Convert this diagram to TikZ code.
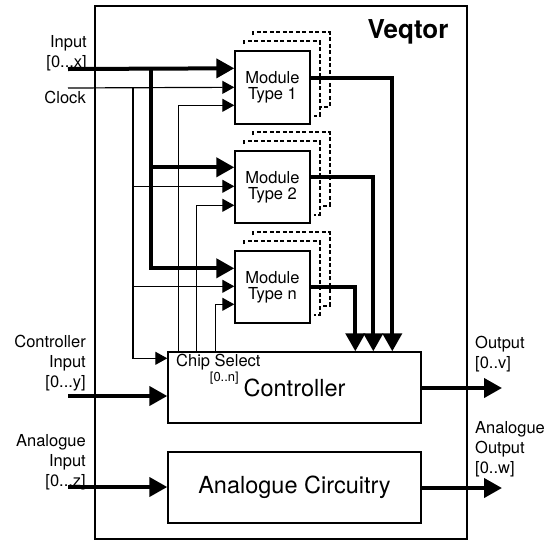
\documentclass[tikz,border=0pt]{standalone}
\usepackage{fontspec}
\setmainfont{TeX Gyre Heros}
\usetikzlibrary{arrows.meta}

\begin{document}
\begin{tikzpicture}[x=1pt,y=-1pt,
  blk/.style={draw,line width=1.4pt,inner sep=0pt},
  modbox/.style={blk,minimum width=75pt,minimum height=72pt,align=center,font=\fontsize{16.5}{16}\selectfont},
  bigbox/.style={blk,minimum width=253pt,minimum height=71pt,font=\fontsize{23.5}{28}\selectfont},
  bus/.style={line width=4pt,-{Triangle[length=18pt,width=19pt]}},
  wire/.style={line width=1.2pt,-{Triangle[length=12pt,width=13pt]}},
  ghost/.style={line width=1.7pt,dash pattern=on 4pt off 2.5pt},
  lbl/.style={font=\fontsize{16.5}{20}\selectfont,inner sep=0pt}]
  \useasboundingbox (0,0) rectangle (551,542);
  \node[blk,minimum width=372pt,minimum height=533pt] (veq) at (281,272.5) {};
  \node[anchor=base,inner sep=0pt,font=\bfseries\fontsize{26}{30}\selectfont] (title) at (408,38) {Veqtor};
  \node[modbox,minimum height=73pt] (mod1) at (272.5,87.5) {Module\\Type 1};
  \node[modbox] (mod2) at (272.5,187) {Module\\Type 2};
  \node[modbox] (modn) at (272.5,287) {Module\\Type n};
  \node[bigbox] (ctrl) at (294.5,387.5) {Controller};
  \node[bigbox] (ana) at (294.5,487.5) {Analogue Circuitry};
  \node[lbl,anchor=base west] (chipsel) at (176,366) {Chip Select};
  \node[anchor=base east,inner sep=0pt,font=\fontsize{13}{14}\selectfont] (chipnum) at (239,381) {[0..n]};
  \draw[ghost] (mod1.north west) ++(10,-6) -- ++(0,-3) -| ([xshift=9pt,yshift=9pt]mod1.south east) -- ++(-6,0);
  \draw[ghost] (mod1.north west) ++(19,-15) -- ++(0,-3) -| ([xshift=19pt,yshift=18pt]mod1.south east) -- ++(-9,0);
  \draw[ghost] (mod2.north west) ++(10,-6) -- ++(0,-3) -| ([xshift=9pt,yshift=9pt]mod2.south east) -- ++(-6,0);
  \draw[ghost] (mod2.north west) ++(19,-15) -- ++(0,-3) -| ([xshift=19pt,yshift=18pt]mod2.south east) -- ++(-9,0);
  \draw[ghost] (modn.north west) ++(10,-6) -- ++(0,-3) -| ([xshift=9pt,yshift=9pt]modn.south east) -- ++(-6,0);
  \draw[ghost] (modn.north west) ++(19,-15) -- ++(0,-3) -| ([xshift=19pt,yshift=18pt]modn.south east) -- ++(-9,0);
  \node[lbl,align=right,anchor=base east] (inlbl) at (87,67) {Input\\{}[0...x]};
  \node[lbl,anchor=base east] (clklbl) at (86,103) {Clock};
  \node[lbl,align=right,anchor=base east] (cinlbl) at (86,387) {Controller\\Input\\{}[0...y]};
  \node[lbl,align=right,anchor=base east] (ainlbl) at (86,486) {Analogue\\Input\\{}[0...z]};
  \node[lbl,align=left,anchor=base west] (coutlbl) at (475,368) {Output\\{}[0..v]};
  \node[lbl,align=left,anchor=base west] (aoutlbl) at (475,473) {Analogue\\Output\\{}[0..w]};
  \coordinate (inx) at (68,69);
  \coordinate (clk) at (68,88);
  \coordinate (cin) at (68,396);
  \coordinate (ain) at (68,487);
  \coordinate (cout) at (502,388);
  \coordinate (aout) at (502,488);
  \coordinate (inbus) at (151,69);
  \coordinate (clkbus) at (133,88);
  \draw[bus] (inx) -- ([yshift=-18pt]mod1.north west);
  \draw[bus] (inbus) |- ([yshift=-17pt]mod2.north west);
  \draw[bus] (inbus) |- ([yshift=-18pt]modn.north west);
  \draw[wire] (clk) -- ([yshift=-37pt]mod1.north west);
  \draw[wire] (clkbus) |- ([yshift=-36pt]mod2.north west);
  \draw[wire] (clkbus) |- ([yshift=-36pt]modn.north west);
  \draw[wire] (clkbus) |- ([yshift=-7pt]ctrl.north west);
  \draw[wire] ([xshift=11pt]ctrl.north west) |- ([yshift=-55pt]mod1.north west);
  \draw[wire] ([xshift=29pt]ctrl.north west) |- ([yshift=-55pt]mod2.north west);
  \draw[wire] ([xshift=48pt]ctrl.north west) |- ([yshift=-54pt]modn.north west);
  \draw[bus] ([yshift=-28pt]mod1.north east) -| ([xshift=225pt]ctrl.north west);
  \draw[bus] ([yshift=-27pt]mod2.north east) -| ([xshift=206pt]ctrl.north west);
  \draw[bus] (modn.east) -| ([xshift=188pt]ctrl.north west);
  \draw[bus] (cin) -- (cin -| ctrl.west);
  \draw[bus] (ain) -- (ain -| ana.west);
  \draw[bus] (ctrl.east |- cout) -- (cout);
  \draw[bus] (ana.east |- aout) -- (aout);
\end{tikzpicture}
\end{document}
